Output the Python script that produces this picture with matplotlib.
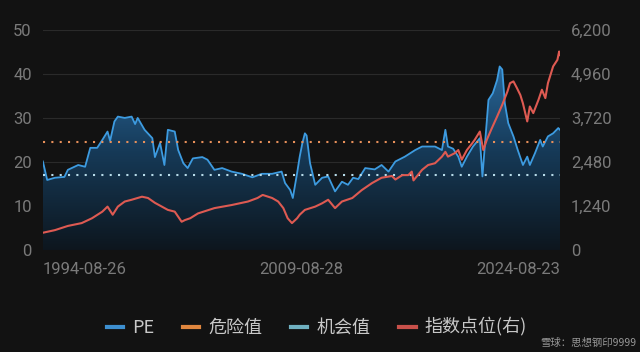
import numpy as np
import matplotlib
matplotlib.use("Agg")
import matplotlib.pyplot as plt
from matplotlib.colors import LinearSegmentedColormap
from matplotlib.patches import Polygon
from matplotlib.lines import Line2D
from matplotlib.ticker import FuncFormatter

plt.rcParams['font.family'] = ['Roboto', 'Noto Sans CJK SC', 'DejaVu Sans']

# PE (left axis) at decimal-year positions
pe_years = [1994.65, 1994.9, 1995.35, 1995.9, 1996.1, 1996.7, 1997.1, 1997.4, 1997.8,
            1998.1, 1998.4, 1998.55, 1998.8, 1999.0, 1999.4, 1999.8, 2000.0, 2000.15,
            2000.55, 2001.0, 2001.15, 2001.45, 2001.7, 2001.9, 2002.2, 2002.3, 2002.5,
            2002.8, 2003.05, 2003.35, 2003.9, 2004.2, 2004.6, 2005.05, 2005.6, 2006.2,
            2006.8, 2007.35, 2007.95, 2008.5, 2008.7, 2009.0, 2009.15, 2009.4, 2009.55,
            2009.7, 2009.85, 2009.95, 2010.15, 2010.45, 2010.85, 2011.2, 2011.6, 2012.0,
            2012.35, 2012.65, 2012.95, 2013.35, 2013.9, 2014.3, 2014.7, 2015.1, 2015.65,
            2016.25, 2016.65, 2017.0, 2017.4, 2017.8, 2018.0, 2018.15, 2018.45, 2018.75,
            2018.95, 2019.25, 2019.6, 2020.0, 2020.15, 2020.3, 2020.5, 2020.75, 2021.0,
            2021.15, 2021.3, 2021.45, 2021.65, 2021.95, 2022.2, 2022.5, 2022.75, 2022.9,
            2023.2, 2023.5, 2023.65, 2023.95, 2024.25, 2024.55, 2024.65]
pe_values = [20.1, 15.9, 16.4, 16.6, 18.2, 19.3, 18.9, 23.2, 23.2,
             25.0, 26.9, 24.8, 29.2, 30.3, 30.0, 30.3, 28.6, 30.0,
             27.3, 25.4, 21.1, 24.3, 19.3, 27.3, 27.0, 26.9, 22.7,
             19.7, 18.6, 20.8, 21.1, 20.5, 18.2, 18.6, 17.8, 17.3,
             16.5, 17.3, 17.3, 17.8, 15.2, 13.6, 11.8, 17.5, 21.2,
             24.2, 26.5, 26.0, 19.7, 14.8, 16.4, 16.7, 13.3, 15.5,
             14.8, 16.4, 16.1, 18.6, 18.3, 19.3, 17.8, 20.1, 21.2,
             22.7, 23.5, 23.5, 23.5, 22.7, 27.3, 23.5, 23.0, 21.2,
             18.9, 21.2, 23.5, 25.4, 16.7, 24.2, 34.1, 35.6, 38.6,
             41.7, 41.0, 33.3, 28.8, 25.8, 22.7, 19.3, 21.2, 19.3,
             22.0, 25.0, 23.5, 25.8, 26.5, 27.7, 27.3]

# index level (right axis)
idx_years = [1994.65, 1995.35, 1996.1, 1996.9, 1997.5, 1998.1, 1998.4, 1998.7, 1999.0,
             1999.4, 1999.8, 2000.4, 2000.75, 2001.15, 2001.55, 2001.9, 2002.3, 2002.7,
             2002.9, 2003.2, 2003.65, 2004.6, 2005.6, 2006.55, 2007.1, 2007.4, 2007.95,
             2008.3, 2008.6, 2008.85, 2009.1, 2009.4, 2009.55, 2009.85, 2010.45, 2010.85,
             2011.2, 2011.6, 2012.0, 2012.6, 2013.15, 2013.75, 2014.3, 2014.9, 2015.1,
             2015.5, 2015.85, 2016.05, 2016.15, 2016.65, 2017.0, 2017.4, 2017.8, 2018.0,
             2018.15, 2018.55, 2018.75, 2018.95, 2019.25, 2019.55, 2019.7, 2020.0, 2020.2,
             2020.4, 2020.7, 2021.0, 2021.3, 2021.6, 2021.75, 2021.95, 2022.15, 2022.35,
             2022.5, 2022.75, 2022.9, 2023.1, 2023.4, 2023.6, 2023.8, 2023.95, 2024.25,
             2024.5, 2024.6, 2024.65]
idx_values = [484, 558, 676, 756, 893, 1079, 1221, 992, 1221,
              1364, 1414, 1500, 1463, 1327, 1221, 1128, 1079, 794,
              843, 893, 1029, 1178, 1265, 1364, 1463, 1550, 1463,
              1364, 1178, 893, 756, 893, 992, 1128, 1221, 1314,
              1414, 1178, 1364, 1463, 1686, 1885, 2034, 2083, 1984,
              2108, 2108, 2207, 1959, 2257, 2393, 2443, 2629, 2765,
              2629, 2728, 2815, 2542, 2815, 3001, 3100, 3336, 2815,
              3100, 3435, 3757, 4092, 4464, 4700, 4749, 4563, 4365,
              4129, 3621, 4042, 3856, 4228, 4514, 4278, 4700, 5171,
              5357, 5592, 5493]

danger_value = 24.5
chance_value = 17.0

x_ticks = [1994.65, 2009.65, 2024.65]
x_labels = ['1994-08-26', '2009-08-28', '2024-08-23']
left_ticks = [0, 10, 20, 30, 40, 50]
right_ticks = [0, 1240, 2480, 3720, 4960, 6200]

bg = '#121212'
fig = plt.figure(figsize=(6.4, 3.52), dpi=100, facecolor=bg)
ax = fig.add_axes([0.067, 0.29, 0.808, 0.625])
ax.set_facecolor(bg)
x0, x1 = pe_years[0], pe_years[-1]
ax.set_xlim(x0, x1)
ax.set_ylim(0, 50)

for t in left_ticks:
    ax.axhline(t, color='#2a2a2a', lw=0.8, zorder=0)

# gradient fill under PE
verts = [(x0, 0)] + list(zip(pe_years, pe_values)) + [(x1, 0)]
patch = Polygon(verts, closed=True, facecolor='none', edgecolor='none')
ax.add_patch(patch)
cmap = LinearSegmentedColormap.from_list('pe', ['#0d161e', '#163a58', '#2c6fa6'])
grad = np.linspace(0, 1, 256).reshape(-1, 1)
im = ax.imshow(grad, extent=[x0, x1, 0, 45], origin='lower', aspect='auto',
               cmap=cmap, zorder=1)
im.set_clip_path(patch)

ax.plot(pe_years, pe_values, color='#3d9be0', lw=1.3, zorder=3)
ax.axhline(danger_value, color='#e8905a', lw=1.5, ls=(0, (1, 3)), zorder=4)
ax.axhline(chance_value, color='#b8dcea', lw=1.5, ls=(0, (1, 3)), zorder=4)

ax.set_yticks(left_ticks)
ax.set_xticks(x_ticks)
ax.set_xticklabels(x_labels)
for lab, ha in zip(ax.get_xticklabels(), ['left', 'center', 'right']):
    lab.set_ha(ha)
ax.tick_params(axis='both', length=0, colors='#7a7a7a', labelsize=12)
ax.tick_params(axis='x', pad=9)
ax.tick_params(axis='y', pad=8)
for s in ax.spines.values():
    s.set_visible(False)

ax2 = ax.twinx()
ax2.set_ylim(0, 6200)
ax2.plot(idx_years, idx_values, color='#de5a52', lw=1.5, zorder=5)
ax2.set_yticks(right_ticks)
ax2.yaxis.set_major_formatter(FuncFormatter(lambda v, p: f'{int(v):,}'))
ax2.tick_params(axis='y', length=0, colors='#7a7a7a', labelsize=12, pad=8)
for s in ax2.spines.values():
    s.set_visible(False)

handles = [Line2D([], [], color='#3d8fd0', lw=3),
           Line2D([], [], color='#e0863e', lw=3),
           Line2D([], [], color='#6fb0c0', lw=3),
           Line2D([], [], color='#c8504a', lw=3)]
labels = ['PE', '危险值', '机会值', '指数点位(右)']
leg = fig.legend(handles, labels, loc='center', bbox_to_anchor=(0.495, 0.07), ncol=4,
                 frameon=False, handlelength=0.9, handletextpad=0.5, columnspacing=1.6,
                 prop={'family': ['Noto Sans CJK SC', 'DejaVu Sans'], 'size': 13})
for t in leg.get_texts():
    t.set_color('#c8c8c8')

# watermark, kept small in the bottom-right corner so it does not cover the legend
fig.text(0.995, 0.025, '雪球：思想钢印9999', ha='right', va='center', color='#d0d0d0',
         alpha=0.7, fontsize=7.5, family=['Noto Sans CJK SC', 'DejaVu Sans'])

fig.savefig('out.png', dpi=100, facecolor=bg)
